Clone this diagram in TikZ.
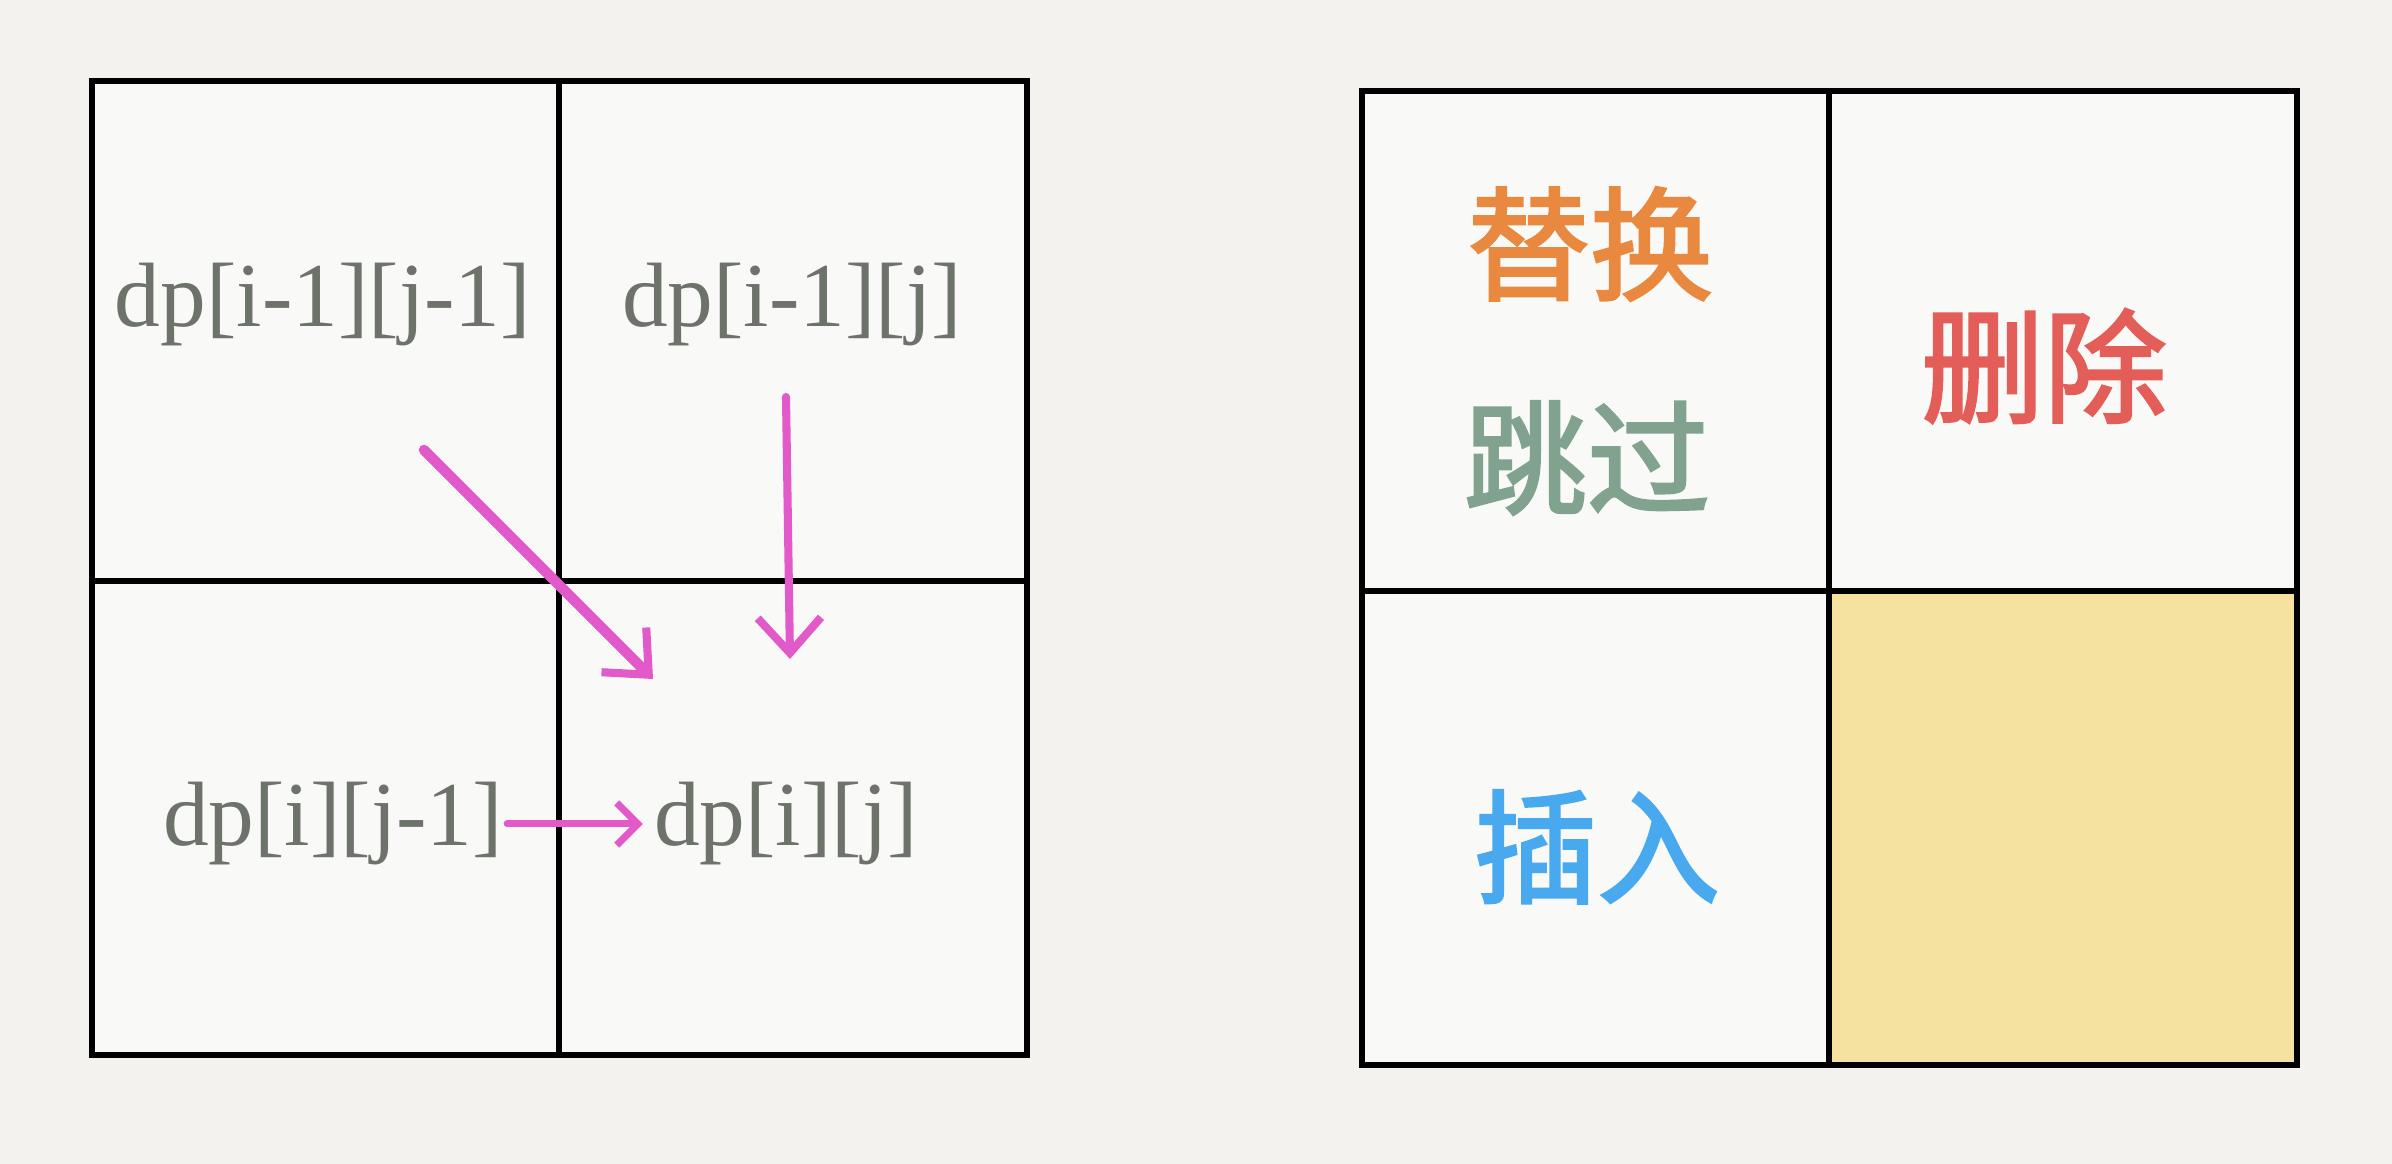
\documentclass[tikz,border=0pt]{standalone}
\usepackage{fontspec}
\setmainfont{Liberation Serif}
\newfontfamily\cjk[FakeBold=2.2]{Noto Sans CJK SC}
\usetikzlibrary{arrows.meta,positioning}
\definecolor{paper}{HTML}{F3F2EF}
\definecolor{cellbg}{HTML}{F9F9F8}
\definecolor{dpgray}{HTML}{6D726B}
\definecolor{arrowpink}{HTML}{E259C9}
\definecolor{cellyellow}{HTML}{F5E2A0}
\definecolor{opreplace}{HTML}{E8893F}
\definecolor{opskip}{HTML}{82A290}
\definecolor{opdelete}{HTML}{E35E59}
\definecolor{opinsert}{HTML}{48A9EF}

\begin{document}
\begin{tikzpicture}[
  cell/.style={draw, line width=1.8pt, fill=cellbg, minimum width=4.675cm,
               inner sep=0pt},
  toprow/.style={cell, minimum height=5.0cm},
  botrow/.style={cell, minimum height=4.74cm},
  dplbl/.style={font=\fontsize{26}{30}\selectfont, text=dpgray, inner sep=0pt},
  oplbl/.style={font=\cjk\fontsize{35}{40}\selectfont},
  pinkarr/.style={-{Straight Barb[length=10pt, width=18pt, line width=2.3pt]},
                  arrowpink, line width=2.3pt, line cap=round},
]
% --- paper ---
\fill[paper] (0,0) rectangle (23.92,11.64);
\useasboundingbox (0,0) rectangle (23.92,11.64);

% --- Left grid: dp dependencies ---
\node[toprow] (ltl) at (3.26,8.33) {};
\node[toprow] (ltr) at (7.93,8.33) {};
\node[botrow] (lbl) at (3.26,3.46) {};
\node[botrow] (lbr) at (7.93,3.46) {};

\node[dplbl] (dpdiag) at (3.23,8.59) {dp[i-1][j-1]};
\node[dplbl] (dpup) at (7.92,8.59) {dp[i-1][j]};
\node[dplbl] (dpleft) at (3.33,3.40) {dp[i][j-1]};
\node[dplbl] (dpcur) at (7.86,3.40) {dp[i][j]};

\coordinate (diagfrom) at (4.24,7.14);
\coordinate (diagto) at (6.53,4.85);
\coordinate (upfrom) at (7.86,7.67);
\coordinate (upto) at (7.90,5.05);

\draw[pinkarr, line width=3pt] (diagfrom) -- (diagto);
\draw[pinkarr] (upfrom) -- (upto);
\draw[pinkarr, -{Straight Barb[length=6pt, width=12pt, line width=2pt]}, line width=2pt,
      shorten <=1pt, shorten >=3pt] (dpleft.east) -- (dpcur.west);

% --- Right grid: edit operations ---
\node[toprow] (rtl) at (15.96,8.23) {};
\node[toprow] (rtr) at (20.63,8.23) {};
\node[botrow] (rbl) at (15.96,3.36) {};
\node[botrow, fill=cellyellow] (rbr) at (20.63,3.36) {};

\node[oplbl, text=opreplace] (replace) at (15.90,9.20) {替换};
\node[oplbl, text=opskip] (skip) at (15.87,7.06) {跳过};
\node[oplbl, text=opdelete] (delete) at (20.44,7.98) {删除};
\node[oplbl, text=opinsert] (insert) at (15.97,3.17) {插入};
\end{tikzpicture}
\end{document}
